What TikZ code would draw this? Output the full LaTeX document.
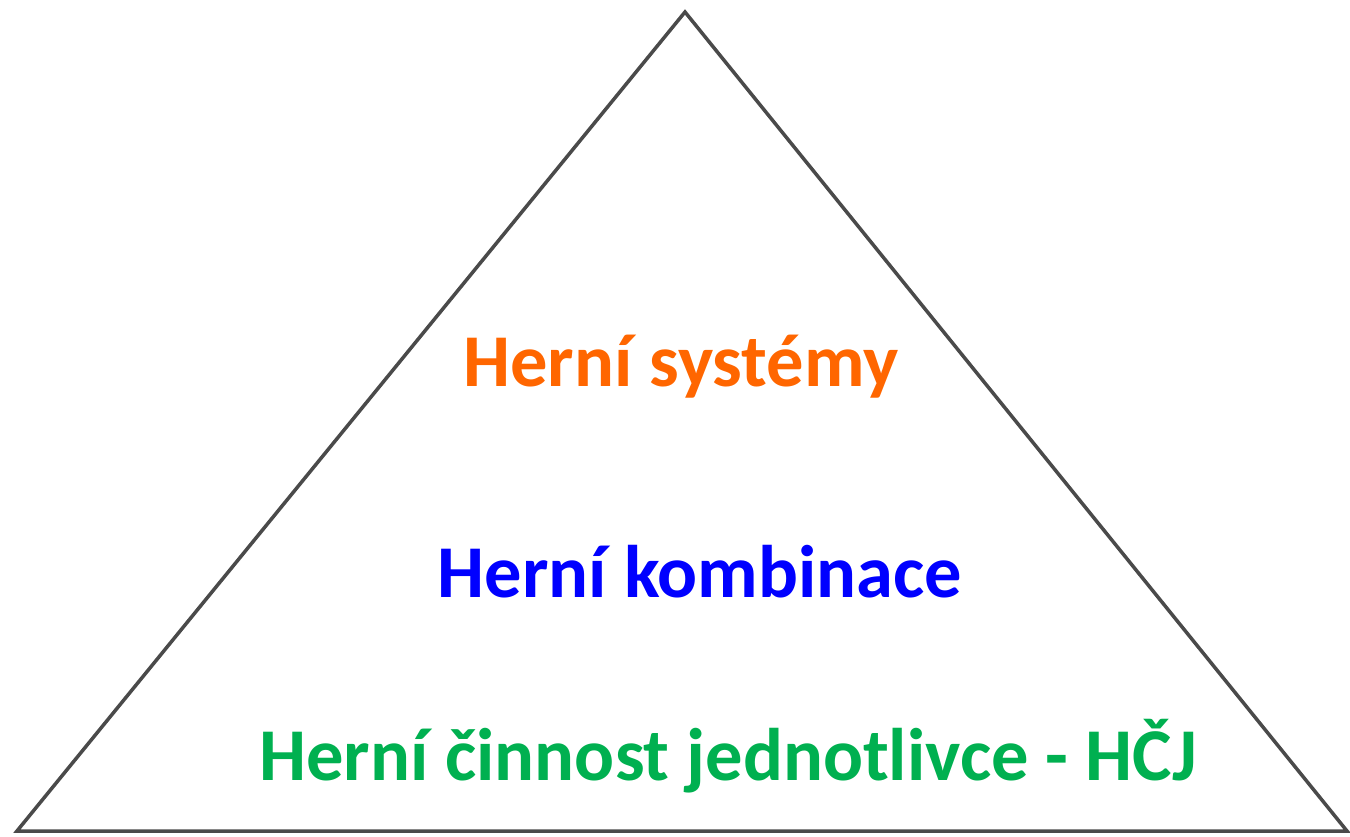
\documentclass[tikz,border=0pt]{standalone}
\usepackage{fontspec}
\setmainfont{Carlito}
\definecolor{orng}{HTML}{FF6600}
\definecolor{blu}{HTML}{0000FF}
\definecolor{grn}{HTML}{00B050}
\definecolor{edge}{HTML}{4A4A4A}
\begin{document}
\begin{tikzpicture}[x=1pt,y=1pt,
  lbl/.style={anchor=base, inner sep=0pt, font=\fontsize{74.5}{80}\selectfont\bfseries}]
\useasboundingbox (0,0) rectangle (1350,836);
\coordinate (apex) at (685,824);
\coordinate (bl) at (17,5);
\coordinate (br) at (1347,5);
\draw[edge, line width=3.5pt, line join=miter] (apex) -- (br) -- (bl) -- cycle;
\node[lbl, text=orng] (sys) at (681,449) {Herní systémy};
\node[lbl, text=blu] (komb) at (700,238) {Herní kombinace};
\node[lbl, text=grn] (hcj) at (728,56) {Herní činnost jednotlivce - HČJ};
\end{tikzpicture}
\end{document}
